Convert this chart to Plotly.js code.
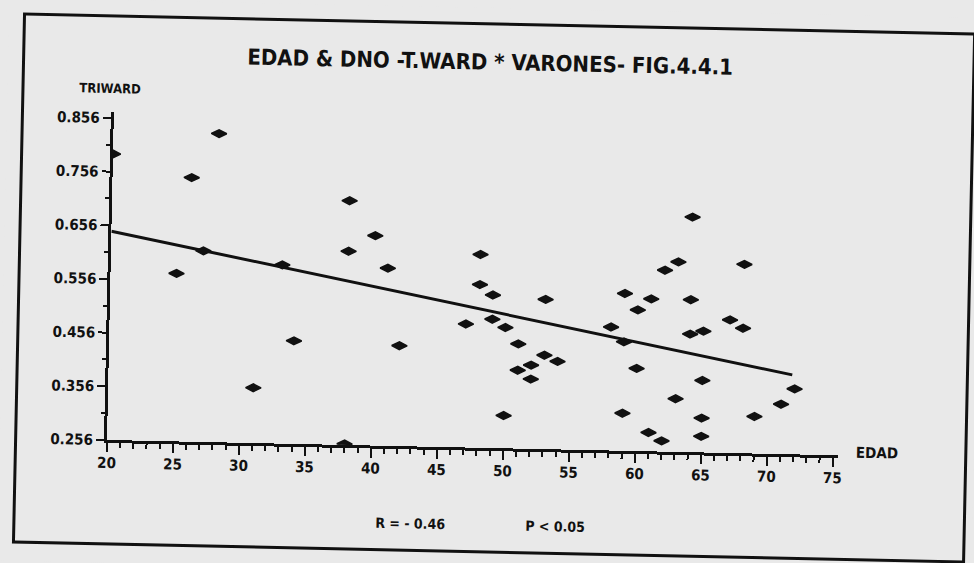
<!DOCTYPE html>
<html>
<head>
<meta charset="utf-8">
<script src="https://cdn.plot.ly/plotly-3.0.1.min.js"></script>
<style>
  html, body { margin:0; padding:0; background:#e9e9e9; overflow:hidden; }
  #chart { width:974px; height:563px; transform: rotate(1.2deg); transform-origin: 107px 440px; }
</style>
</head>
<body>
<div id="chart"></div>
<script>
// Age (EDAD) and T.WARD values
const edad = [20, 25, 26, 27, 28, 31, 33, 34, 38, 38, 38, 40, 41, 42, 47, 48, 48, 49, 49, 50,
              50, 51, 51, 52, 52, 53, 53, 54, 58, 59, 59, 59, 60, 60, 61, 61, 62, 62, 63, 63,
              64, 64, 64, 65, 65, 65, 65, 67, 68, 68, 69, 71, 72];
const triward = [0.789, 0.569, 0.748, 0.612, 0.831, 0.359, 0.589, 0.448, 0.617, 0.711, 0.258, 0.647, 0.587, 0.443, 0.486, 0.616, 0.560, 0.541, 0.496, 0.481,
                 0.317, 0.451, 0.402, 0.412, 0.386, 0.535, 0.431, 0.420, 0.486, 0.549, 0.459, 0.326, 0.519, 0.410, 0.540, 0.291, 0.276, 0.594, 0.610, 0.355,
                 0.694, 0.540, 0.476, 0.482, 0.390, 0.320, 0.286, 0.504, 0.608, 0.489, 0.325, 0.349, 0.378];
// regression line end points
const fitX = [20, 71.8];
const fitY = [0.645, 0.404];

const titleText = "EDAD & DNO -T.WARD * VARONES- FIG.4.4.1";
const yLabel = "TRIWARD";
const xLabel = "EDAD";
const rText = "R = - 0.46";
const pText = "P < 0.05";

const FONT = "DejaVu Sans Condensed, Liberation Sans Narrow, sans-serif";
const INK = "#111111";

const traces = [
  { x: edad, y: triward, type: "scatter", mode: "markers",
    marker: { symbol: "diamond-wide", size: 11, color: INK, line: { color: INK, width: 1.5 } },
    hoverinfo: "x+y", showlegend: false },
  { x: fitX, y: fitY, type: "scatter", mode: "lines",
    line: { color: INK, width: 3 }, showlegend: false, hoverinfo: "skip" }
];

const layout = {
  width: 974, height: 563,
  paper_bgcolor: "#e9e9e9", plot_bgcolor: "rgba(0,0,0,0)",
  margin: { l: 107, r: 136, t: 112, b: 123 },
  font: { family: FONT, color: INK, weight: "bold" },
  showlegend: false,
  title: { text: titleText, x: 0.495, xref: "container", xanchor: "center",
           y: 0.904, yref: "container", yanchor: "middle",
           font: { family: FONT, size: 22, color: INK, weight: "bold" } },
  xaxis: {
    range: [20, 75.38], showgrid: false, zeroline: false,
    showline: true, linecolor: INK, linewidth: 3,
    tickmode: "linear", tick0: 20, dtick: 5,
    ticks: "outside", ticklen: 9, tickwidth: 2, tickcolor: INK, ticklabelstandoff: -2,
    tickfont: { family: FONT, size: 15, color: INK, weight: "bold" },
    minor: { tickmode: "linear", tick0: 20, dtick: 1, ticks: "outside", ticklen: 5, tickwidth: 2, tickcolor: INK }
  },
  yaxis: {
    range: [0.256, 0.867], showgrid: false, zeroline: false,
    showline: true, linecolor: INK, linewidth: 3,
    tickmode: "linear", tick0: 0.256, dtick: 0.1, tickformat: ".3f",
    ticks: "outside", ticklen: 8, tickwidth: 2, tickcolor: INK,
    tickfont: { family: FONT, size: 15, color: INK, weight: "bold" },
    minor: { tickmode: "linear", tick0: 0.256, dtick: 0.05, ticks: "outside", ticklen: 4, tickwidth: 2, tickcolor: INK }
  },
  shapes: [
    { type: "rect", xref: "paper", yref: "paper", x0: -0.125, x1: 1.175, y0: -0.317, y1: 1.293,
      line: { color: INK, width: 3 }, fillcolor: "rgba(0,0,0,0)", layer: "below" }
  ],
  annotations: [
    { text: yLabel, xref: "paper", yref: "paper", x: -0.005, y: 1.073, xanchor: "center", yanchor: "middle",
      showarrow: false, font: { family: FONT, size: 13, color: INK, weight: "bold" } },
    { text: xLabel, xref: "paper", yref: "paper", x: 1.053, y: 0.01, xanchor: "center", yanchor: "middle",
      showarrow: false, font: { family: FONT, size: 15, color: INK, weight: "bold" } },
    { text: rText, xref: "paper", yref: "paper", x: 0.417, y: -0.235, xanchor: "center", yanchor: "middle",
      showarrow: false, font: { family: FONT, size: 14, color: INK, weight: "bold" } },
    { text: pText, xref: "paper", yref: "paper", x: 0.616, y: -0.235, xanchor: "center", yanchor: "middle",
      showarrow: false, font: { family: FONT, size: 14, color: INK, weight: "bold" } }
  ]
};

Plotly.newPlot("chart", traces, layout, { displayModeBar: false, staticPlot: true });
</script>
</body>
</html>
